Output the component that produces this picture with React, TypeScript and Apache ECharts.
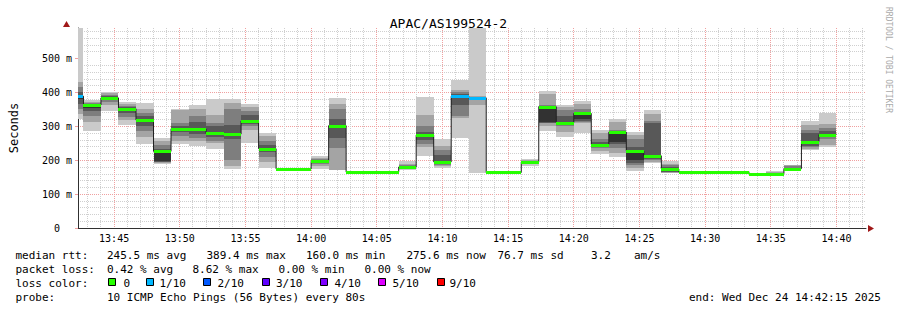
import React, { useEffect, useRef } from "react";
import * as echarts from "echarts";

const MONO = "'DejaVu Sans Mono', monospace";
const TITLE = "APAC/AS199524-2";

// time range (seconds of day): 13:42:15 .. 14:42:15, samples every 80 s
const rangeStart = 49335;
const rangeEnd = 52935;
const firstSampleEnd = 49360;
const sampleLength = 80;

const timeTicks = ["13:45", "13:50", "13:55", "14:00", "14:05", "14:10", "14:15", "14:20", "14:25", "14:30", "14:35", "14:40"];
const yTicks = [0, 100, 200, 300, 400, 500];

// median rtt per sample (ms)
const medians = [
  389, 363, 384, 352, 318, 226, 293, 292, 279, 277, 316, 234, 174, 174, 197, 302,
  165, 165, 165, 180, 274, 195, 389, 384, 164, 164, 195, 358, 311, 338, 246, 283,
  227, 213, 174, 165, 165, 166, 166, 160, 160, 175, 255, 275.6,
];

// lost pings (out of 10) per sample
const lossTenths = [
  1, 0, 0, 0, 0, 0, 0, 0, 0, 0, 0, 0, 0, 0, 0, 0,
  0, 0, 0, 0, 0, 0, 1, 1, 0, 0, 0, 0, 0, 0, 0, 0,
  0, 0, 0, 0, 0, 0, 0, 0, 0, 0, 0, 0,
];

// sorted ping rtts per sample (ms)
const pings = [
  [323, 337, 352, 367, 380, 389, 401, 416, 430, 590],
  [286, 313, 330, 345, 355, 363, 366, 368, 372, 379],
  [344, 362, 372, 378, 382, 384, 389, 392, 397, 401],
  [305, 318, 328, 340, 347, 352, 356, 360, 366, 372],
  [249, 268, 285, 300, 312, 318, 330, 340, 352, 369],
  [188, 192, 194, 196, 198, 226, 232, 245, 258, 266],
  [248, 256, 270, 282, 288, 293, 300, 310, 348, 352],
  [242, 258, 265, 278, 286, 292, 312, 330, 352, 362],
  [234, 250, 258, 268, 274, 279, 300, 310, 334, 381],
  [174, 182, 200, 262, 270, 277, 303, 352, 370, 381],
  [251, 288, 302, 308, 313, 316, 333, 345, 357, 367],
  [178, 195, 210, 224, 230, 234, 245, 257, 272, 281],
  [172, 173, 173, 174, 174, 174, 174, 175, 175, 176],
  [172, 173, 173, 174, 174, 174, 174, 175, 175, 176],
  [175, 183, 188, 193, 196, 197, 200, 203, 206, 212],
  [170, 172, 237, 265, 297, 302, 322, 350, 365, 383],
  [164, 164, 165, 165, 165, 165, 165, 166, 166, 167],
  [164, 164, 165, 165, 165, 165, 165, 166, 166, 167],
  [164, 164, 165, 165, 165, 165, 165, 166, 166, 167],
  [171, 173, 175, 177, 179, 180, 183, 186, 190, 197],
  [213, 240, 248, 260, 271, 274, 283, 302, 332, 386],
  [178, 182, 185, 188, 192, 195, 215, 229, 242, 262],
  [265, 325, 330, 362, 387, 389, 395, 400, 406, 438],
  [163, 362, 380, 382, 383, 384, 386, 387, 388, 590],
  [163, 163, 164, 164, 164, 164, 164, 165, 165, 166],
  [163, 163, 164, 164, 164, 164, 164, 165, 165, 166],
  [183, 188, 191, 193, 194, 195, 197, 198, 200, 203],
  [286, 300, 309, 311, 313, 358, 360, 362, 396, 403],
  [269, 283, 300, 303, 305, 311, 330, 347, 357, 364],
  [281, 311, 313, 317, 323, 338, 343, 352, 367, 374],
  [218, 226, 236, 240, 243, 246, 255, 262, 280, 288],
  [210, 222, 235, 247, 254, 283, 286, 290, 312, 322],
  [168, 178, 185, 192, 200, 227, 240, 262, 275, 283],
  [193, 196, 200, 205, 208, 213, 310, 315, 335, 347],
  [162, 163, 164, 166, 168, 174, 180, 185, 190, 198],
  [164, 164, 165, 165, 165, 165, 165, 166, 166, 167],
  [164, 164, 165, 165, 165, 165, 165, 166, 166, 167],
  [165, 165, 166, 166, 166, 166, 166, 167, 167, 168],
  [165, 165, 166, 166, 166, 166, 166, 167, 167, 168],
  [159, 159, 160, 160, 160, 160, 160, 161, 161, 162],
  [159, 160, 160, 160, 160, 160, 161, 163, 165, 167],
  [170, 172, 173, 174, 174, 175, 178, 182, 185, 187],
  [230, 233, 240, 243, 249, 255, 280, 290, 305, 315],
  [239, 244, 262, 268, 272, 276, 287, 296, 308, 338],
];

const yMax = 590;
const gridMinorSeconds = 60;
const gridMajorSeconds = 300;

const smokeColors = ["#cacaca", "#a4a4a4", "#7e7e7e", "#585858", "#323232"];
const lossColors: Record<number, string> = {
  0: "#26ff00", 1: "#00b8ff", 2: "#0059ff", 3: "#5e00ff", 4: "#7e00ff", 5: "#dd00ff", 9: "#ff0000",
};
const legendLoss = [
  { label: "0", color: "#26ff00" },
  { label: "1/10", color: "#00b8ff" },
  { label: "2/10", color: "#0059ff" },
  { label: "3/10", color: "#5e00ff" },
  { label: "4/10", color: "#7e00ff" },
  { label: "5/10", color: "#dd00ff" },
  { label: "9/10", color: "#ff0000" },
];

const statsRtt = ["median rtt:", "245.5 ms avg", "389.4 ms max", "160.0 ms min", "275.6 ms now", "76.7 ms sd", "3.2", "am/s"];
const statsLoss = ["packet loss:", "0.42 % avg", "8.62 % max", "0.00 % min", "0.00 % now"];
const probeText = ["probe:", "10 ICMP Echo Pings (56 Bytes) every 80s"];
const endText = "end: Wed Dec 24 14:42:15 2025";

const MAJOR = "#f0a0a0";
const MINOR = "#cfcfcf";

function toSec(hhmm: string) {
  const [h, m] = hhmm.split(":").map(Number);
  return h * 3600 + m * 60;
}
function fmtTime(v: number) {
  const h = Math.floor(v / 3600);
  const m = Math.round((v - h * 3600) / 60);
  return String(h).padStart(2, "0") + ":" + String(m).padStart(2, "0");
}
function sampleStart(i: number) {
  return i === 0 ? rangeStart : firstSampleEnd + (i - 1) * sampleLength;
}
function sampleEnd(i: number) {
  return firstSampleEnd + i * sampleLength;
}

export default function App() {
  const ref = useRef<HTMLDivElement>(null);
  useEffect(() => {
    if (!ref.current) return;
    const chart = echarts.init(ref.current, undefined, { renderer: "svg" });

    const smokeData = pings.map((row, i) => [sampleStart(i), sampleEnd(i), ...row.map((v) => Math.min(v, yMax))]);
    const medianData = medians.map((m, i) => [sampleStart(i), sampleEnd(i), m, lossTenths[i]]);
    const stepPoints = medians.map((m, i) => [sampleStart(i), m]);
    stepPoints.push([sampleEnd(medians.length - 1), medians[medians.length - 1]]);

    const txt = (x: number, y: number, text: string, align = "left") => ({
      type: "text",
      x,
      y,
      style: { text, font: `11px ${MONO}`, fill: "#000", align, verticalAlign: "middle" },
    });

    const legendEls: any[] = [];
    const rttX = [15.5, 107, 206.5, 306, 406.5, 497.5, 591, 634];
    statsRtt.forEach((t, k) => legendEls.push(txt(rttX[k], 255, t)));
    const lossX = [15.5, 107, 192.5, 278.5, 364.5];
    statsLoss.forEach((t, k) => legendEls.push(txt(lossX[k], 269, t)));
    legendEls.push(txt(15.5, 283.2, "loss color:"));
    const boxX = [108, 146, 202.5, 261.5, 320, 378, 436.5];
    const lblX = [123.5, 159.5, 217.5, 276, 334.5, 392.5, 449.5];
    legendLoss.forEach((l, k) => {
      legendEls.push({ type: "rect", shape: { x: Math.round(boxX[k]) + 0.5, y: 278.5, width: 7, height: 7 }, style: { fill: l.color, stroke: "#000", lineWidth: 1 } });
      legendEls.push(txt(lblX[k], 283.2, l.label));
    });
    legendEls.push(txt(15.5, 297, probeText[0]));
    legendEls.push(txt(107, 297, probeText[1]));
    legendEls.push(txt(881, 297, endText, "right"));
    legendEls.push({ type: "text", x: 888.5, y: 60, rotation: -Math.PI / 2, style: { text: "RRDTOOL / TOBI OETIKER", font: `8px ${MONO}`, fill: "#aaaaaa", align: "center", verticalAlign: "middle" } });
    legendEls.push({ type: "polygon", shape: { points: [[868, 225], [874, 228.5], [868, 232]] }, style: { fill: "#a01818" } });
    legendEls.push({ type: "polygon", shape: { points: [[63, 27], [66.5, 21], [70, 27]] }, style: { fill: "#a01818" } });

    const option: any = {
      animation: false,
      backgroundColor: "#ffffff",
      title: {
        text: TITLE,
        left: "center",
        top: 12,
        textStyle: { fontFamily: MONO, fontSize: 13, fontWeight: "normal", color: "#000" },
      },
      grid: { left: 66, top: 28, width: 800, height: 200 },
      xAxis: {
        type: "value",
        min: rangeStart,
        max: rangeEnd,
        axisLine: { show: true, onZero: false, lineStyle: { color: "#303030", width: 1 } },
        axisTick: { show: false },
        axisLabel: {
          customValues: timeTicks.map(toSec),
          formatter: (v: number) => fmtTime(v),
          fontFamily: MONO,
          fontSize: 10,
          color: "#000",
          margin: 5,
        },
        splitLine: { show: false },
        minorSplitLine: { show: false },
      },
      yAxis: {
        type: "value",
        min: 0,
        max: yMax,
        interval: 100,
        name: "Seconds",
        nameLocation: "middle",
        nameGap: 58,
        nameRotate: 90,
        nameTextStyle: { fontFamily: MONO, fontSize: 12, color: "#000" },
        axisLine: { show: true, onZero: false, lineStyle: { color: "#303030", width: 1 } },
        axisTick: { show: true, customValues: yTicks, length: 3, lineStyle: { color: MAJOR } },
        axisLabel: {
          customValues: yTicks,
          formatter: (v: number) => (v === 0 ? "0\u00a0\u00a0" : `${v} m`),
          fontFamily: MONO,
          fontSize: 10,
          color: "#000",
          margin: 6,
        },
        splitLine: { show: true, showMinLine: false, showMaxLine: false, lineStyle: { color: MAJOR, type: [1, 1], width: 1 } },
        minorTick: { show: false, splitNumber: 5 },
        minorSplitLine: { show: true, lineStyle: { color: MINOR, type: [1, 1], width: 1 } },
      },
      graphic: legendEls,
      series: [
        {
          type: "custom",
          name: "time grid",
          silent: true,
          z: 1,
          clip: false,
          encode: { x: 0, y: 1 },
          data: [[rangeStart, 0]],
          renderItem: (params: any, api: any) => {
            const cs = params.coordSys;
            const children: any[] = [];
            const first = Math.ceil(rangeStart / gridMinorSeconds) * gridMinorSeconds;
            for (let t = first; t < rangeEnd; t += gridMinorSeconds) {
              const x = Math.floor(api.coord([t, 0])[0]) + 0.5;
              const major = t % gridMajorSeconds === 0;
              children.push({
                type: "line",
                shape: { x1: x, y1: cs.y, x2: x, y2: cs.y + cs.height },
                style: { stroke: major ? MAJOR : MINOR, lineWidth: 1, lineDash: [1, 1] },
              });
            }
            return { type: "group", children };
          },
        },
        {
          type: "custom",
          name: "smoke",
          silent: true,
          z: 2,
          encode: { x: [0, 1], y: [2, 3, 4, 5, 6, 7, 8, 9, 10, 11] },
          data: smokeData,
          renderItem: (params: any, api: any) => {
            const t0 = api.value(0);
            const t1 = api.value(1);
            const children: any[] = [];
            for (let b = 0; b < 5; b++) {
              const lo = api.value(2 + b);
              const hi = api.value(11 - b);
              const a = api.coord([t0, hi]);
              const c = api.coord([t1, lo]);
              const x = Math.round(a[0]);
              const y = Math.round(a[1]);
              const w = Math.round(c[0]) - x;
              const h = Math.round(c[1]) - y;
              if (h <= 0) continue;
              children.push({ type: "rect", shape: { x, y, width: w, height: h }, style: { fill: smokeColors[b] } });
            }
            return { type: "group", children };
          },
        },
        {
          type: "line",
          name: "median",
          step: "end",
          symbol: "none",
          silent: true,
          z: 3,
          data: stepPoints,
          lineStyle: { color: "#202020", width: 1 },
        },
        {
          type: "custom",
          name: "median loss color",
          silent: true,
          z: 4,
          encode: { x: [0, 1], y: 2 },
          data: medianData,
          renderItem: (params: any, api: any) => {
            const t0 = api.value(0);
            const t1 = api.value(1);
            const m = api.value(2);
            const lc = api.value(3);
            const a = api.coord([t0, m]);
            const c = api.coord([t1, m]);
            const x = Math.round(a[0]);
            const w = Math.round(c[0]) - x;
            const y = Math.round(a[1]);
            return { type: "rect", shape: { x, y: y - 1, width: w, height: 3 }, style: { fill: lossColors[lc] || "#26ff00" } };
          },
        },
      ],
    };
    chart.setOption(option);
    return () => chart.dispose();
  }, []);

  return (
    <div
      ref={ref}
      style={{ position: "absolute", left: 0, top: 0, width: 897, height: 310, background: "#fff" }}
    />
  );
}
